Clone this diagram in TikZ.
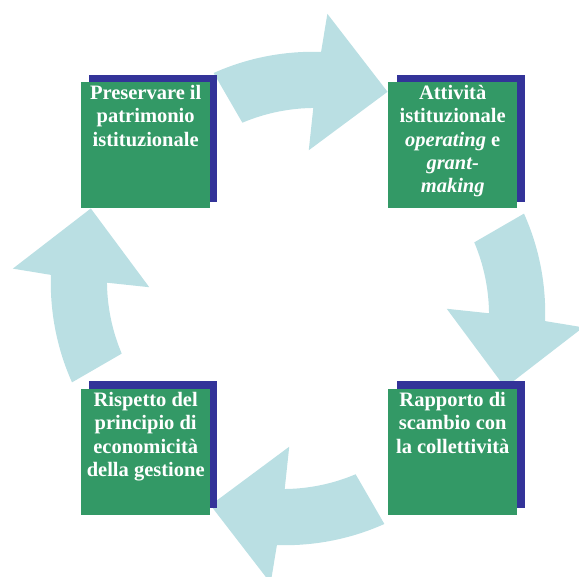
\documentclass[tikz,border=0pt]{standalone}
\usepackage{fontspec}
\setmainfont{Liberation Serif}
\definecolor{arr}{RGB}{186,223,227}
\definecolor{gbox}{RGB}{51,153,102}
\definecolor{bbox}{RGB}{51,51,153}
\tikzset{
  arrowshape/.style={fill=arr, draw=none},
  greenbox/.style={fill=gbox, minimum width=129pt, minimum height=126pt, inner sep=0pt, anchor=north west},
  shadowbox/.style={fill=bbox, minimum width=128pt, minimum height=127pt, inner sep=0pt, anchor=north west},
  boxlabel/.style={text=white, font=\fontsize{20.5}{23.3}\selectfont\bfseries, align=center, anchor=north, inner sep=0pt}
}
\newcommand{\cyclearrow}[3]{%
  \begin{scope}[shift={(#1,#2)}, rotate=#3]
    \fill[arrowshape] (111:241)
      -- plot[domain=111:85.1, samples=30] (\x:{241+(111-\x)*6/25.9})
      -- (84.5:285.5) -- (67:224) -- (86.6:148) -- (86:190.5)
      -- plot[domain=86:108.2, samples=30] (\x:{190.5-(\x-86)*6/22.2})
      -- cycle;
  \end{scope}}
\begin{document}
\begin{tikzpicture}[x=1pt, y=1pt]
  \useasboundingbox (0,0) rectangle (579,577);
  \clip (0,0) rectangle (579,577);
  % circular block arrows
  \cyclearrow{300}{279}{0}
  \cyclearrow{299}{277}{-90}
  \cyclearrow{298}{278}{-180}
  \cyclearrow{297}{281}{-270}
  % shadow boxes
  \node[shadowbox] (s1) at (89,502) {};
  \node[shadowbox] (s2) at (397,502) {};
  \node[shadowbox] (s3) at (397,196) {};
  \node[shadowbox] (s4) at (89,196) {};
  % green boxes
  \node[greenbox] (g1) at (81,495) {};
  \node[greenbox] (g2) at (388,495) {};
  \node[greenbox] (g3) at (388,188) {};
  \node[greenbox] (g4) at (81,188) {};
  % labels
  \node[boxlabel] (t1) at ([yshift=-1pt]g1.north) {\strut Preservare il\\patrimonio\\istituzionale};
  \node[boxlabel] (t2) at ([yshift=-1pt]g2.north) {\strut Attività\\istituzionale\\\textit{operating} e\\\textit{grant-}\\\textit{making}};
  \node[boxlabel] (t3) at ([yshift=-1pt]g3.north) {\strut Rapporto di\\scambio con\\la collettività};
  \node[boxlabel] (t4) at ([yshift=-1pt]g4.north) {\strut Rispetto del\\principio di\\economicità\\della gestione};
\end{tikzpicture}
\end{document}
